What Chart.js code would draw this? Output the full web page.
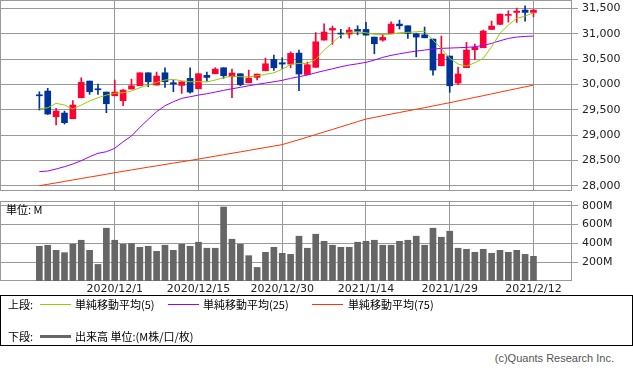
<!DOCTYPE html>
<html lang="ja">
<head>
<meta charset="utf-8">
<title>NYダウ 日足チャート</title>
<script src="https://cdn.jsdelivr.net/npm/chart.js@4.4.1/dist/chart.umd.min.js"></script>
<style>
  body { margin: 0; background: #fff; }
  #wrap { position: relative; width: 633px; height: 371px; overflow: hidden; font-family: "Noto Sans CJK JP", sans-serif; color: #000; }
  #priceChart { position: absolute; left: 0; top: 0; }
  #volChart { position: absolute; left: 0; top: 201px; }
  .unit { position: absolute; left: 6px; top: 202px; font-size: 11px; line-height: 14px; }
  .legend { position: absolute; left: 0; top: 295px; width: 633px; height: 51px; box-sizing: border-box; border: 1px solid #000; font-size: 11px; }
  .legend span { position: absolute; line-height: 14px; white-space: nowrap; }
  .legend i { position: absolute; display: block; }
  .copy { position: absolute; right: 19px; top: 351px; font: 11px "Liberation Sans", sans-serif; line-height: 14px; color: #555; }
</style>
</head>
<body>
<div id="wrap">
  <canvas id="priceChart" width="633" height="191"></canvas>
  <canvas id="volChart" width="633" height="95"></canvas>
  <div class="unit">単位: M</div>
  <div class="legend">
    <span style="left:7px; top:1px;">上段:</span>
    <i style="left:39px; top:8px; width:31px; height:1px; background:#99cc00;"></i>
    <span style="left:74px; top:1px;">単純移動平均(5)</span>
    <i style="left:167px; top:8px; width:31px; height:1px; background:#9900ff;"></i>
    <span style="left:202px; top:1px;">単純移動平均(25)</span>
    <i style="left:311px; top:8px; width:31px; height:1px; background:#ff3300;"></i>
    <span style="left:347px; top:1px;">単純移動平均(75)</span>
    <span style="left:7px; top:33px;">下段:</span>
    <i style="left:39px; top:39px; width:31px; height:3px; background:#666666;"></i>
    <span style="left:74px; top:33px;">出来高 単位:(M株/口/枚)</span>
  </div>
  <div class="copy">(c)Quants Research Inc.</div>
</div>
<script>
// trading days
const dates = [
  "2020/11/17", "2020/11/18", "2020/11/19", "2020/11/20", "2020/11/23", "2020/11/24", "2020/11/25", "2020/11/27", "2020/11/30",
  "2020/12/1", "2020/12/2", "2020/12/3", "2020/12/4", "2020/12/7", "2020/12/8", "2020/12/9", "2020/12/10", "2020/12/11",
  "2020/12/14", "2020/12/15", "2020/12/16", "2020/12/17", "2020/12/18", "2020/12/21", "2020/12/22", "2020/12/23",
  "2020/12/24", "2020/12/28", "2020/12/29", "2020/12/30", "2020/12/31",
  "2021/1/4", "2021/1/5", "2021/1/6", "2021/1/7", "2021/1/8", "2021/1/11", "2021/1/12", "2021/1/13", "2021/1/14",
  "2021/1/15", "2021/1/19", "2021/1/20", "2021/1/21", "2021/1/22", "2021/1/25", "2021/1/26", "2021/1/27", "2021/1/28",
  "2021/1/29", "2021/2/1", "2021/2/2", "2021/2/3", "2021/2/4", "2021/2/5", "2021/2/8", "2021/2/9", "2021/2/10",
  "2021/2/11", "2021/2/12"
];

const open = [
  29790, 29870, 29364, 29437, 29325, 29738, 30067, 29910, 29850,
  29777, 29680, 29909, 29974, 30230, 29988, 30230, 30034, 29982,
  30120, 29915, 30179, 30211, 30329, 30152, 30211, 30034,
  30139, 30270, 30494, 30428, 30402,
  30618, 30195, 30337, 30874, 31071, 31012, 30992, 31084, 31084,
  30933, 30874, 30998, 31189, 31156, 30998, 30978, 30894, 30368,
  30559, 30028, 30330, 30683, 30723, 31084, 31183, 31360, 31419,
  31465, 31419
];
const high = [
  29856, 29923, 29529, 29476, 29680, 30132, 30067, 30008, 29850,
  30087, 29900, 30106, 30230, 30230, 30244, 30329, 30087, 30053,
  30329, 30211, 30244, 30329, 30329, 30303, 30211, 30283,
  30205, 30520, 30579, 30526, 30644,
  30677, 30441, 31022, 31195, 31150, 31084, 31124, 31156, 31222,
  30933, 30986, 31235, 31268, 31156, 31010, 31130, 30894, 30953,
  30559, 30343, 30829, 30795, 31071, 31248, 31386, 31451, 31504,
  31549, 31478
];
const low = [
  29496, 29410, 29201, 29220, 29325, 29738, 29805, 29805, 29443,
  29777, 29580, 29909, 29974, 29955, 29988, 29943, 29856, 29825,
  29830, 29915, 30067, 30211, 30120, 29738, 29975, 30034,
  30087, 30270, 30278, 30317, 30329,
  29876, 30195, 30337, 30874, 30789, 30913, 30913, 30978, 30972,
  30604, 30854, 30998, 31091, 30907, 30545, 30919, 30185, 30368,
  29844, 29994, 30330, 30494, 30723, 31084, 31183, 31228, 31222,
  31248, 31333
];
const close = [
  29777, 29417, 29476, 29247, 29594, 30041, 29856, 29895, 29620,
  29850, 29890, 29974, 30230, 30053, 30165, 30053, 30008, 30053,
  29850, 30211, 30139, 30303, 30172, 30224, 29994, 30126,
  30205, 30408, 30329, 30402, 30612,
  30205, 30388, 30841, 31032, 31104, 30992, 31071, 31045, 30972,
  30801, 30927, 31189, 31156, 31006, 30933, 30919, 30283, 30598,
  29974, 30205, 30677, 30730, 31051, 31150, 31386, 31380, 31445,
  31419, 31465
];

// moving averages as drawn
const ma5 = [
  29522, 29541, 29628, 29595, 29516, 29595, 29673, 29738, 29791,
  29825, 29837, 29870, 29935, 29988, 30041, 30087, 30100, 30073,
  30053, 30055, 30050, 30087, 30132, 30165, 30152, 30150,
  30171, 30199, 30230, 30297, 30396,
  30415, 30412, 30494, 30677, 30821, 30972, 31026, 31037, 31018,
  30986, 30984, 30992, 31018, 31026, 31037, 31051, 30874, 30711,
  30514, 30402, 30362, 30427, 30514, 30742, 31006, 31169, 31301,
  31346, 31411
];
const ma25 = [
  28282, 28295, 28335, 28380, 28433, 28498, 28577, 28644, 28675,
  28742, 28872, 28984, 29156, 29313, 29463, 29581, 29659, 29726,
  29758, 29791, 29817, 29850, 29884, 29915, 29943, 29974,
  30002, 30028, 30053, 30081, 30120,
  30152, 30185, 30230, 30270, 30309, 30348, 30382, 30407, 30435,
  30480, 30533, 30573, 30604, 30632, 30657, 30677, 30697, 30711,
  30717, 30723, 30730, 30742, 30770, 30809, 30860, 30907, 30933,
  30947, 30953
];
const ma75 = [
  28006, 28033, 28061, 28090, 28119, 28147, 28176, 28203, 28232,
  28262, 28289, 28316, 28344, 28371, 28397, 28424, 28451, 28477,
  28503, 28531, 28559, 28588, 28616, 28645, 28672, 28701,
  28730, 28758, 28786, 28815, 28864,
  28912, 28962, 29013, 29064, 29114, 29166, 29216, 29268, 29319,
  29351, 29384, 29417, 29448, 29480, 29511, 29543, 29576, 29609,
  29640, 29676, 29710, 29745, 29779, 29814, 29849, 29884, 29919,
  29953, 29988
];

// volume, millions
const volume = [
  369, 380, 326, 301, 390, 433, 326, 176, 561,
  433, 390, 398, 358, 369, 315, 380, 326, 390,
  369, 412, 348, 348, 786, 444, 390, 269,
  144, 305, 358, 294, 283,
  476, 348, 497, 422, 380, 358, 358, 412, 422,
  433, 380, 380, 422, 433, 476, 380, 561, 465,
  529, 348, 337, 305, 337, 294, 326, 305, 326,
  283, 262
];

const priceTicks = [28000, 28500, 29000, 29500, 30000, 30500, 31000, 31500];
const volumeTicks = [200, 400, 600, 800];
const dateLabels = ["2020/12/1", "2020/12/15", "2020/12/30", "2021/1/14", "2021/1/29", "2021/2/12"];

const upColor = "#ff0033";
const downColor = "#003399";
const gridColor = "#999999";
const textColor = "#222222";
const axisFont = { family: "DejaVu Sans", size: 11 };

const labelIdx = dateLabels.map((d) => dates.indexOf(d));
const candleColor = close.map((c, i) => (c >= open[i] ? upColor : downColor));

// plot box
const frame = {
  id: "frame",
  beforeDatasetsDraw(chart) {
    const a = chart.chartArea;
    const ctx = chart.ctx;
    ctx.save();
    ctx.strokeStyle = gridColor;
    ctx.lineWidth = 1;
    ctx.strokeRect(a.left + 0.5, a.top + 0.5, a.right - a.left - 1, a.bottom - a.top - 1);
    ctx.restore();
  },
};

function xAxis(showLabels) {
  return {
    type: "linear",
    offset: false,
    min: -4.7,
    max: dates.length - 1 + 4.6,
    afterBuildTicks: (axis) => {
      axis.ticks = labelIdx.map((v) => ({ value: v }));
    },
    afterFit: (axis) => {
      axis.height = showLabels ? 15 : 0;
      axis.paddingLeft = 0;
      axis.paddingRight = 0;
    },
    grid: { color: gridColor, drawTicks: false, offset: false },
    border: { display: false },
    ticks: {
      display: showLabels,
      padding: 2,
      maxRotation: 0,
      autoSkip: false,
      font: axisFont,
      color: textColor,
      callback: (v) => dates[v],
    },
  };
}

function yAxis(min, max, tickList, fmt) {
  return {
    position: "right",
    min: min,
    max: max,
    afterBuildTicks: (axis) => {
      axis.ticks = tickList.map((v) => ({ value: v }));
    },
    afterFit: (axis) => {
      axis.width = 61;
      axis.paddingTop = 0;
      axis.paddingBottom = 0;
    },
    grid: { color: gridColor, tickLength: 6 },
    border: { display: false },
    ticks: { padding: 4, autoSkip: false, font: axisFont, color: textColor, callback: fmt },
  };
}

const common = {
  responsive: false,
  animation: false,
  devicePixelRatio: 1,
  layout: { padding: 0 },
  plugins: { legend: { display: false }, tooltip: { enabled: false } },
};

// price chart
new Chart(document.getElementById("priceChart"), {
  type: "bar",
  data: {
    datasets: [
      {
        type: "line",
        data: ma5.map((v, i) => ({ x: i, y: v })),
        borderColor: "#99cc00",
        borderWidth: 1,
        pointRadius: 0,
        order: 0,
      },
      {
        type: "line",
        data: ma25.map((v, i) => ({ x: i, y: v })),
        borderColor: "#9900ff",
        borderWidth: 1,
        pointRadius: 0,
        order: 0,
      },
      {
        type: "line",
        data: ma75.map((v, i) => ({ x: i, y: v })),
        borderColor: "#ff3300",
        borderWidth: 1,
        pointRadius: 0,
        order: 0,
      },
      {
        data: open.map((o, i) => ({ x: i, y: [o, close[i]] })),
        backgroundColor: candleColor,
        barThickness: 6,
        minBarLength: 1,
        grouped: false,
        order: 1,
      },
      {
        data: low.map((l, i) => ({ x: i, y: [l, high[i]] })),
        backgroundColor: candleColor,
        barThickness: 1,
        grouped: false,
        order: 2,
      },
    ],
  },
  options: Object.assign({}, common, {
    scales: {
      x: xAxis(false),
      y: yAxis(27901.5, 31663.5, priceTicks, (v) => v.toLocaleString("en-US")),
    },
  }),
  plugins: [frame],
});

// volume chart
new Chart(document.getElementById("volChart"), {
  type: "bar",
  data: {
    datasets: [
      {
        data: volume.map((v, i) => ({ x: i, y: v })),
        backgroundColor: "#666666",
        barThickness: 6,
      },
    ],
  },
  options: Object.assign({}, common, {
    scales: {
      x: xAxis(true),
      y: yAxis(0, 850, volumeTicks, (v) => v + "M"),
    },
  }),
  plugins: [frame],
});
</script>
</body>
</html>
